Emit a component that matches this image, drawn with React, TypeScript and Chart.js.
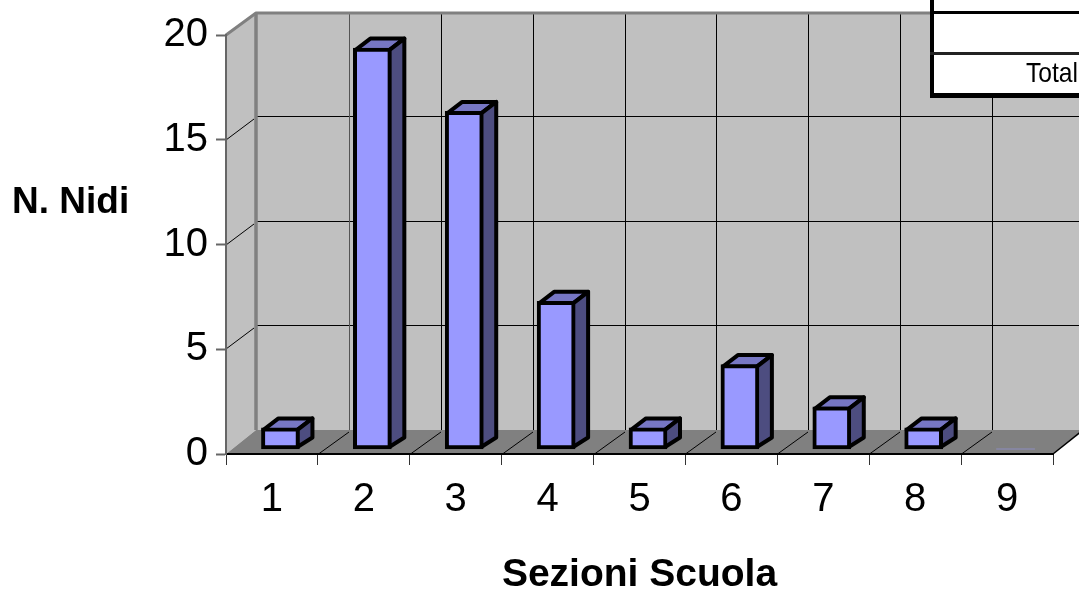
import React, { useEffect, useRef } from "react";
import { Chart, registerables } from "chart.js";

Chart.register(...registerables);

const categories = ["1", "2", "3", "4", "5", "6", "7", "8", "9"];
const nidi = [1, 19, 16, 7, 1, 4, 2, 1, 0];
const yTicks = [0, 5, 10, 15, 20];
const xTitle = "Sezioni Scuola";
const yTitle = "N. Nidi";
const tableRowLabel = "Total";

const FONT = "'Liberation Sans', Arial, sans-serif";
const WALL = "#C0C0C0";
const FLOOR = "#808080";
const BAR_FRONT = "#9999FF";
const BAR_TOP = "#7777C4";
const BAR_SIDE = "#4D4D80";

const WALL_DX = 30;
const WALL_DY = -22;
const BAR_DX = 15;
const BAR_DY = -11.5;
const BAR_STROKE = 4;

function poly(ctx: CanvasRenderingContext2D, pts: number[][], fill?: string, stroke?: string, w = 1) {
  ctx.beginPath();
  pts.forEach((p, i) => (i ? ctx.lineTo(p[0], p[1]) : ctx.moveTo(p[0], p[1])));
  if (fill) {
    ctx.closePath();
    ctx.fillStyle = fill;
    ctx.fill();
  }
  if (stroke) {
    ctx.strokeStyle = stroke;
    ctx.lineWidth = w;
    ctx.lineJoin = "round";
    ctx.stroke();
  }
}

const walls3d = {
  id: "walls3d",
  beforeDraw(chart: any) {
    const { ctx, chartArea: a, scales } = chart;
    const y = scales.y;
    const x = scales.x;
    ctx.save();
    const bx = a.left + WALL_DX;
    const ty = a.top + WALL_DY;
    const by = a.bottom - 24;
    const right = a.right + WALL_DX;
    // back and side walls
    poly(ctx, [[bx, ty], [right, ty], [right, by], [bx, by]], WALL);
    poly(ctx, [[a.left, a.top], [bx, ty], [bx, by], [a.left, a.bottom]], WALL);
    // floor
    poly(ctx, [[a.left, a.bottom], [bx, by], [right, by], [a.right, a.bottom]], FLOOR);
    // horizontal grid
    yTicks.slice(1, -1).forEach((v) => {
      const py = Math.round(y.getPixelForValue(v));
      poly(ctx, [[a.left, py], [bx - 2, py + WALL_DY + 1]], undefined, "#000", 1);
      poly(ctx, [[bx, py + WALL_DY - 1.5], [right, py + WALL_DY - 1.5]], undefined, "#000", 1);
    });
    // vertical grid and floor diagonals
    x.ticks.forEach((_: any, i: number) => {
      if (i === 0) return;
      const px = Math.round(x.left + (i * x.width) / categories.length);
      poly(ctx, [[px + 31.5, ty], [px + 31.5, by]], undefined, i === 1 ? "#555" : "#000", 1);
      poly(ctx, [[px + 0.5, a.bottom], [px + 31, by + 2]], undefined, "#000", 1);
    });
    // wall frame
    poly(ctx, [[a.left, a.top], [bx, ty], [right, ty]], undefined, FLOOR, 3);
    poly(ctx, [[bx, ty], [bx, by]], undefined, FLOOR, 3.5);
    // floor outer edge
    poly(ctx, [[a.right, a.bottom], [right, by]], undefined, "#000", 1.5);
    // y axis title
    ctx.fillStyle = "#000";
    ctx.font = `bold 37px ${FONT}`;
    ctx.textAlign = "left";
    ctx.textBaseline = "middle";
    ctx.fillText(yTitle, 12, 203);
    ctx.restore();
  },
  beforeDatasetsDraw(chart: any) {
    const { ctx } = chart;
    ctx.save();
    const h = BAR_STROKE / 2;
    chart.getDatasetMeta(0).data.forEach((bar: any, i: number) => {
      if (nidi[i] <= 0) return;
      const p = bar.getProps(["x", "y", "base", "width"], true);
      const l = p.x - p.width / 2 + h;
      const r = p.x + p.width / 2 - h;
      const t = p.y + h;
      const b = p.base - h;
      poly(ctx, [[l, t], [l + BAR_DX, t + BAR_DY], [r + BAR_DX, t + BAR_DY], [r, t]], BAR_TOP, "#000", BAR_STROKE);
      poly(ctx, [[r, t], [r + BAR_DX, t + BAR_DY], [r + BAR_DX, b + BAR_DY + 2], [r, b]], BAR_SIDE, "#000", BAR_STROKE);
    });
    ctx.restore();
  },
  afterDraw(chart: any) {
    const { ctx } = chart;
    ctx.save();
    // clipped data table in the corner
    ctx.fillStyle = "#fff";
    ctx.fillRect(932, 0, 160, 96);
    ctx.fillStyle = "#000";
    ctx.fillRect(930, 0, 4, 98);
    ctx.fillRect(930, 93, 160, 5);
    ctx.fillRect(930, 11, 160, 3);
    ctx.fillStyle = "#222";
    ctx.fillRect(930, 52, 160, 3);
    ctx.fillStyle = "#000";
    ctx.font = `28px ${FONT}`;
    ctx.textAlign = "right";
    ctx.textBaseline = "alphabetic";
    ctx.translate(1078, 82);
    ctx.scale(0.88, 1);
    ctx.fillText(tableRowLabel, 0, 0);
    ctx.restore();
  },
};

export default function App() {
  const ref = useRef<HTMLCanvasElement>(null);
  useEffect(() => {
    const chart = new Chart(ref.current!, {
      type: "bar",
      data: {
        labels: categories,
        datasets: [
          {
            data: nidi,
            xAxisID: "x2",
            yAxisID: "y2",
            backgroundColor: BAR_FRONT,
            borderColor: "#000",
            borderWidth: (c: any) => (c.raw > 0 ? BAR_STROKE : 0),
            borderSkipped: false,
            barThickness: 38,
          },
        ],
      },
      options: {
        responsive: false,
        animation: false,
        events: [],
        layout: { padding: { left: 0, right: 26, top: 35, bottom: 0 } },
        plugins: { legend: { display: false }, tooltip: { enabled: false }, title: { display: false } },
        scales: {
          x: {
            type: "category",
            position: "bottom",
            offset: true,
            afterFit: (s: any) => { s.height = 136; },
            border: { color: "#000", width: 2 },
            grid: { offset: true, drawOnChartArea: false, drawTicks: true, tickLength: 11, tickColor: "#333", tickWidth: 1 },
            ticks: { color: "#000", padding: 11, maxRotation: 0, autoSkip: false, font: { family: FONT, size: 40 } },
            title: { display: true, text: xTitle, color: "#000", padding: { top: 0, bottom: -9 }, font: { family: FONT, size: 39, weight: "bold" } },
          },
          y: {
            type: "linear",
            position: "left",
            min: 0,
            max: 20,
            afterFit: (s: any) => { s.width = 226; },
            afterBuildTicks: (s: any) => { s.ticks = yTicks.map((value) => ({ value })); },
            border: { color: "#666", width: 2 },
            grid: { drawOnChartArea: false, drawTicks: true, tickLength: 10, tickColor: "#666", tickWidth: 2 },
            ticks: { color: "#000", padding: 8, labelOffset: 0, font: { family: FONT, size: 40 } },
          },
          x2: { type: "linear", display: false, offset: false, min: 0.4075, max: 9.4075, grid: { display: false } },
          y2: { type: "linear", display: false, min: -0.237, max: 19.62, grid: { display: false } },
        },
      } as any,
      plugins: [walls3d],
    });
    return () => chart.destroy();
  }, []);
  return (
    <div style={{ position: "absolute", left: 0, top: 0, width: 1079, height: 590, overflow: "hidden", background: "#fff" }}>
      <canvas ref={ref} width={1079} height={590} style={{ display: "block" }} />
    </div>
  );
}
